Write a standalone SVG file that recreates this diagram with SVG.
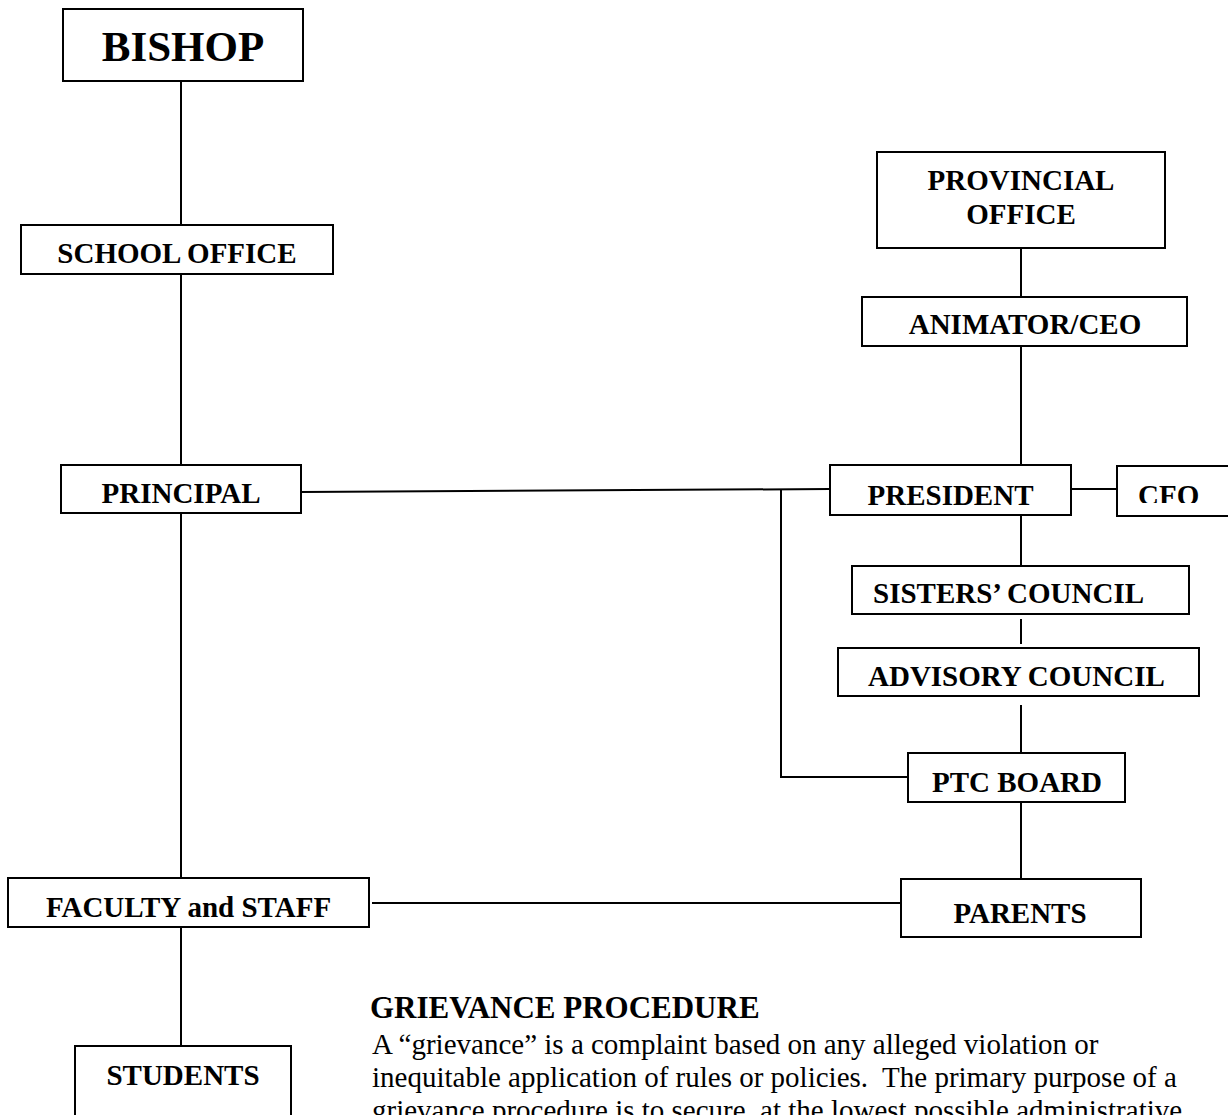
<svg xmlns="http://www.w3.org/2000/svg" width="1228" height="1115" viewBox="0 0 1228 1115">
<style>
.box{fill:#fff;stroke:#000;stroke-width:2}
.lbl{font-family:"Liberation Serif","Times New Roman",serif;font-weight:bold;font-size:29px;fill:#000;text-anchor:middle}
.conn line,.conn polyline{stroke:#000;stroke-width:2;fill:none}
.body{font-family:"Liberation Serif","Times New Roman",serif;font-size:29px;fill:#000}
.head{font-family:"Liberation Serif","Times New Roman",serif;font-weight:bold;font-size:31px;fill:#000}
</style>
<defs>
<clipPath id="clipPres"><rect x="830" y="465" width="241" height="41"/></clipPath>
<clipPath id="clipCfo"><rect x="1117" y="466" width="120" height="37"/></clipPath>
</defs>
<rect width="1228" height="1115" fill="#fff"/>
<g class="conn" id="connectors">
<line x1="181" y1="81" x2="181" y2="225"/>
<line x1="181" y1="274" x2="181" y2="465"/>
<line x1="181" y1="513" x2="181" y2="878"/>
<line x1="181" y1="927" x2="181" y2="1046"/>
<line x1="301" y1="492" x2="830" y2="489"/>
<polyline points="781,489 781,777 908,777"/>
<line x1="1021" y1="248" x2="1021" y2="297"/>
<line x1="1021" y1="346" x2="1021" y2="465"/>
<line x1="1071" y1="489" x2="1117" y2="489"/>
<line x1="1021" y1="515" x2="1021" y2="566"/>
<line x1="1021" y1="619" x2="1021" y2="644"/>
<line x1="1021" y1="705" x2="1021" y2="753"/>
<line x1="1021" y1="802" x2="1021" y2="879"/>
<line x1="372" y1="903" x2="901" y2="903"/>
</g>
<g id="bishop"><rect class="box" x="63" y="9" width="240" height="72"/><text class="lbl" x="183" y="61" style="font-size:43px">BISHOP</text></g>
<g id="school-office"><rect class="box" x="21" y="225" width="312" height="49"/><text class="lbl" x="177" y="263">SCHOOL OFFICE</text></g>
<g id="principal"><rect class="box" x="61" y="465" width="240" height="48"/><text class="lbl" x="181" y="503">PRINCIPAL</text></g>
<g id="faculty"><rect class="box" x="8" y="878" width="361" height="49"/><text class="lbl" x="188.5" y="917">FACULTY and STAFF</text></g>
<g id="students"><rect class="box" x="75" y="1046" width="216" height="90"/><text class="lbl" x="183" y="1085">STUDENTS</text></g>
<g id="provincial"><rect class="box" x="877" y="152" width="288" height="96"/><text class="lbl" x="1021" y="190">PROVINCIAL</text><text class="lbl" x="1021" y="224">OFFICE</text></g>
<g id="animator"><rect class="box" x="862" y="297" width="325" height="49"/><text class="lbl" x="1025" y="334">ANIMATOR/CEO</text></g>
<g id="president"><rect class="box" x="830" y="465" width="241" height="50"/><text class="lbl" x="950.5" y="505" clip-path="url(#clipPres)">PRESIDENT</text></g>
<g id="cfo"><rect class="box" x="1117" y="466" width="130" height="50"/><text class="lbl" x="1138" y="505" style="text-anchor:start" clip-path="url(#clipCfo)">CFO</text></g>
<g id="sisters"><rect class="box" x="852" y="566" width="337" height="48"/><text class="lbl" x="873" y="603" style="text-anchor:start">SISTERS’ COUNCIL</text></g>
<g id="advisory"><rect class="box" x="838" y="648" width="361" height="48"/><text class="lbl" x="868" y="686" style="text-anchor:start">ADVISORY COUNCIL</text></g>
<g id="ptc"><rect class="box" x="908" y="753" width="217" height="49"/><text class="lbl" x="1017" y="792">PTC BOARD</text></g>
<g id="parents"><rect class="box" x="901" y="879" width="240" height="58"/><text class="lbl" x="1020" y="923">PARENTS</text></g>
<g id="grievance">
<text class="head" x="370" y="1018">GRIEVANCE PROCEDURE</text>
<text class="body" x="372" y="1054" xml:space="preserve">A “grievance” is a complaint based on any alleged violation or</text>
<text class="body" x="372" y="1087" xml:space="preserve">inequitable application of rules or policies.  The primary purpose of a</text>
<text class="body" x="372" y="1120" xml:space="preserve">grievance procedure is to secure, at the lowest possible administrative</text>
</g>
</svg>
